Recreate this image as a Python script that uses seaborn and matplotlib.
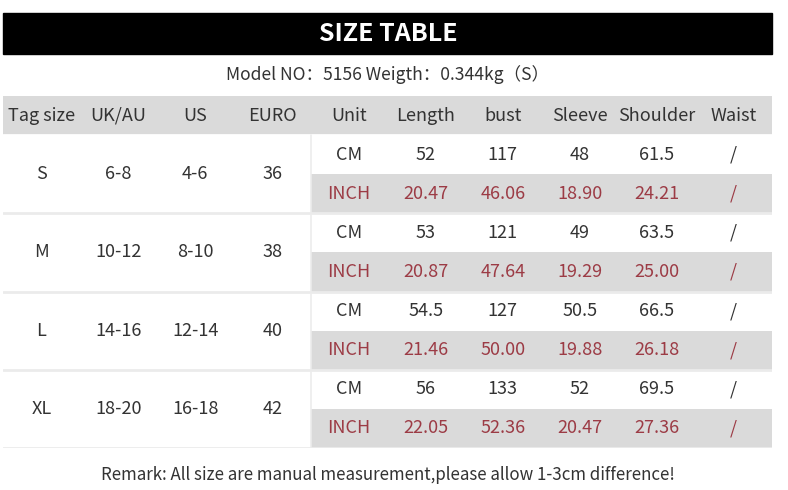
import matplotlib
matplotlib.use('Agg')
import matplotlib.pyplot as plt
from matplotlib.colors import ListedColormap
from matplotlib.patches import Rectangle
import numpy as np
import seaborn as sns

# table content
columns = ['Tag size', 'UK/AU', 'US', 'EURO', 'Unit', 'Length', 'bust', 'Sleeve', 'Shoulder', 'Waist']
tag_sizes = ['S', 'M', 'L', 'XL']
uk_au = ['6-8', '10-12', '14-16', '18-20']
us_sizes = ['4-6', '8-10', '12-14', '16-18']
euro = ['36', '38', '40', '42']
units = ['CM', 'INCH']
length_cm = [52, 53, 54.5, 56]
length_inch = [20.47, 20.87, 21.46, 22.05]
bust_cm = [117, 121, 127, 133]
bust_inch = [46.06, 47.64, 50.00, 52.36]
sleeve_cm = [48, 49, 50.5, 52]
sleeve_inch = [18.90, 19.29, 19.88, 20.47]
shoulder_cm = [61.5, 63.5, 66.5, 69.5]
shoulder_inch = [24.21, 25.00, 26.18, 27.36]
waist = ['/', '/', '/', '/']

title = 'SIZE TABLE'
subtitle = 'Model NO：5156 Weigth：0.344kg（S）'
remark = 'Remark: All size are manual measurement,please allow 1-3cm difference!'

sns.set_theme(style='white')
plt.rcParams['font.family'] = ['Noto Sans CJK SC', 'DejaVu Sans']

W, H = 788, 490
fig = plt.figure(figsize=(W / 100, H / 100), dpi=100)
fig.patch.set_facecolor('white')

# background axes in pixel coordinates
bg = fig.add_axes([0, 0, 1, 1])
bg.set_xlim(0, W)
bg.set_ylim(H, 0)
bg.axis('off')

bg.add_patch(Rectangle((3, 13), 769, 41, color='black'))
bg.text(388, 34, title, color='white', fontsize=18, fontweight='bold', ha='center', va='center')
bg.text(388, 75, subtitle, color='#333333', fontsize=12.6, fontweight='light', ha='center', va='center')
bg.text(388, 475, remark, color='#333333', fontsize=12.2, fontweight='light', ha='center', va='center')

# table grid: header + 2 rows per size
n_rows = 1 + 2 * len(tag_sizes)
n_cols = len(columns)
shade = np.zeros((n_rows, n_cols))
shade[0, :] = 1
for i in range(len(tag_sizes)):
    shade[2 + 2 * i, 4:] = 1

top, bottom = 96, 448
ax = fig.add_axes([3 / W, 1 - bottom / H, 769 / W, (bottom - top) / H])
sns.heatmap(shade, cmap=ListedColormap(['white', '#dadada']), cbar=False,
            xticklabels=False, yticklabels=False, ax=ax)

dark = '#333333'
red = '#9c3b45'
fs = 13
kw = dict(fontsize=fs, fontweight='light', ha='center', va='center')

for j, name in enumerate(columns):
    ax.text(j + 0.5, 0.5, name, color=dark, **kw)

cm_cols = [length_cm, bust_cm, sleeve_cm, shoulder_cm]
inch_cols = [length_inch, bust_inch, sleeve_inch, shoulder_inch]
for i, size in enumerate(tag_sizes):
    r_cm = 1 + 2 * i
    r_in = r_cm + 1
    mid = r_cm + 1
    for j, val in enumerate([size, uk_au[i], us_sizes[i], euro[i]]):
        ax.text(j + 0.5, mid, val, color=dark, **kw)
    ax.text(4.5, r_cm + 0.5, units[0], color=dark, **kw)
    ax.text(4.5, r_in + 0.5, units[1], color=red, **kw)
    for k in range(4):
        ax.text(5.5 + k, r_cm + 0.5, f'{cm_cols[k][i]:g}', color=dark, **kw)
        ax.text(5.5 + k, r_in + 0.5, f'{inch_cols[k][i]:.2f}', color=red, **kw)
    ax.text(9.5, r_cm + 0.5, waist[i], color=dark, **kw)
    ax.text(9.5, r_in + 0.5, waist[i], color=red, **kw)

# separators
ax.axhline(1, color='white', lw=2)
for y in [3, 5, 7, 9]:
    ax.axhline(y, color='#ebebeb', lw=2)
ax.plot([4, 4], [1, 9], color='#ececec', lw=1.2)

fig.savefig('out.png', dpi=100, facecolor='white')
